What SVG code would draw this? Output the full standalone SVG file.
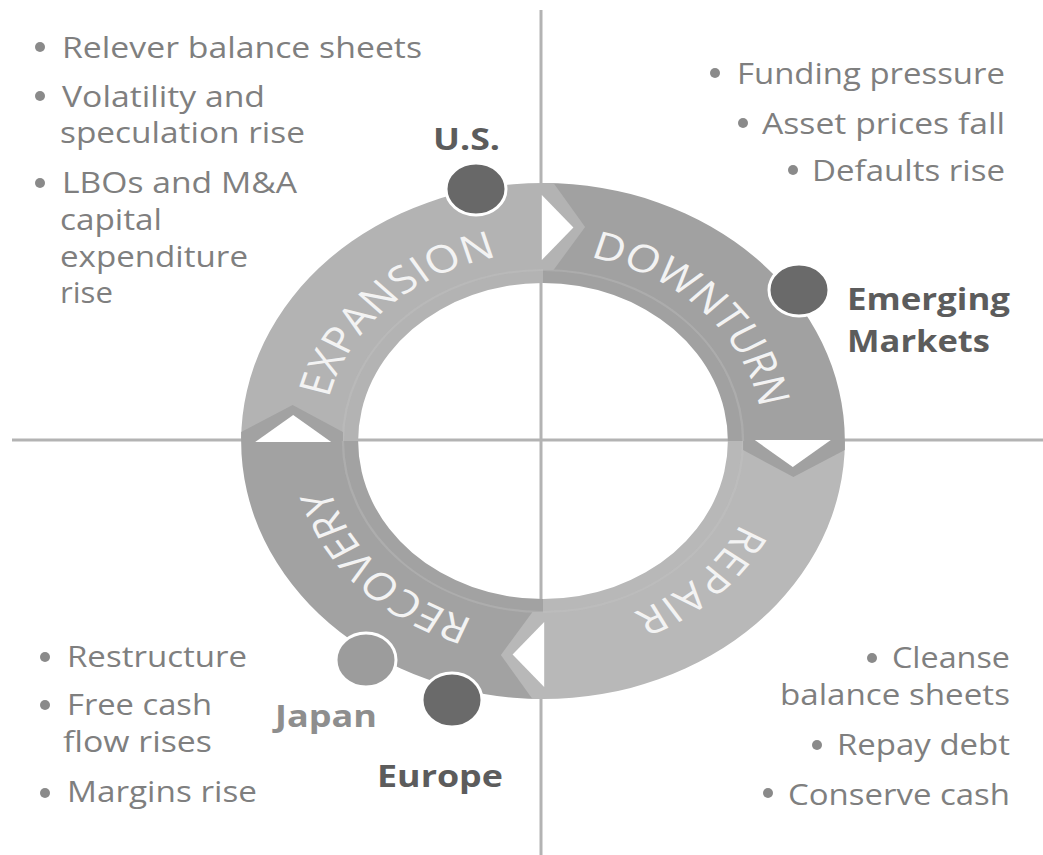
<svg xmlns="http://www.w3.org/2000/svg" width="1043" height="855" viewBox="0 0 1043 855">
  <style>
    .bt { font-family: "Open Sans", "Liberation Sans", sans-serif; font-size: 29px; fill: #7f7f7f; }
    .lb { font-family: "Open Sans", "Liberation Sans", sans-serif; font-size: 31px; font-weight: 700; fill: #5c5c5c; }
    .ph { font-family: "Open Sans", "Liberation Sans", sans-serif; font-size: 38px; fill: #f3f3f3; }
    .dot { fill: #8a8a8a; }
    .mk { stroke: #ffffff; stroke-width: 3; }
    .qline { stroke: #b3b3b3; stroke-width: 3; fill: none; }
  </style>
  <defs>
    <path id="arc" d="M188,0 A188,188 0 1 1 -188,0 A188,188 0 1 1 188,0"/>
  </defs>
  <rect width="1043" height="855" fill="#ffffff"/>

  <g id="quadrant-lines">
    <line class="qline" x1="541" y1="10" x2="541" y2="855"/>
    <line class="qline" x1="12" y1="440" x2="1043" y2="440"/>
  </g>

  <g id="ring" transform="translate(543,441) scale(1.17,1)">
    <g id="expansion"><path d="M-258,0 A258,258 0 0 1 0,-258 L0,-158 A158,158 0 0 0 -158,0 Z" fill="#b3b3b3"/></g>
    <g id="downturn"><path d="M0,-258 A258,258 0 0 1 258,0 L158,0 A158,158 0 0 0 0,-158 Z" fill="#a1a1a1"/></g>
    <g id="repair"><path d="M258,0 A258,258 0 0 1 0,258 L0,158 A158,158 0 0 0 158,0 Z" fill="#b8b8b8"/></g>
    <g id="recovery"><path d="M0,258 A258,258 0 0 1 -258,0 L-158,0 A158,158 0 0 0 0,158 Z" fill="#a2a2a2"/></g>
    <circle r="171" fill="none" stroke="#c6c6c6" stroke-opacity="0.3" stroke-width="2"/>

    <g id="connectors">
      <g>
        <polygon points="0,-258 9,-258 36,-214 9,-171 0,-171" fill="#b3b3b3"/>
        <polygon points="-1,-246 -1,-181 26,-213.5" fill="#ffffff"/>
      </g>
      <g transform="rotate(90)">
        <polygon points="0,-258 9,-258 36,-214 9,-171 0,-171" fill="#a1a1a1"/>
        <polygon points="-1,-246 -1,-181 26,-213.5" fill="#ffffff"/>
      </g>
      <g transform="rotate(180)">
        <polygon points="0,-258 9,-258 36,-214 9,-171 0,-171" fill="#b8b8b8"/>
        <polygon points="-1,-246 -1,-181 26,-213.5" fill="#ffffff"/>
      </g>
      <g transform="rotate(270)">
        <polygon points="0,-258 9,-258 36,-214 9,-171 0,-171" fill="#a2a2a2"/>
        <polygon points="-1,-246 -1,-181 26,-213.5" fill="#ffffff"/>
      </g>
    </g>

    <text class="ph" letter-spacing="1"><textPath href="#arc" startOffset="12.8%" text-anchor="middle">REPAIR</textPath></text>
    <text class="ph" letter-spacing="0"><textPath href="#arc" startOffset="38%" text-anchor="middle">RECOVERY</textPath></text>
    <text class="ph" letter-spacing="0.5"><textPath href="#arc" startOffset="62.7%" text-anchor="middle">EXPANSION</textPath></text>
    <text class="ph" letter-spacing="0"><textPath href="#arc" startOffset="87.8%" text-anchor="middle">DOWNTURN</textPath></text>
  </g>

  <g id="node-us">
    <ellipse class="mk" cx="476" cy="189" rx="30" ry="26" fill="#686868"/>
    <text class="lb" x="433" y="150" textLength="67" lengthAdjust="spacingAndGlyphs">U.S.</text>
  </g>
  <g id="node-emerging">
    <ellipse class="mk" cx="799" cy="290" rx="30" ry="26" fill="#6a6a6a"/>
    <text class="lb" x="847" y="310" textLength="163" lengthAdjust="spacingAndGlyphs">Emerging</text>
    <text class="lb" x="847" y="352" textLength="143" lengthAdjust="spacingAndGlyphs">Markets</text>
  </g>
  <g id="node-japan">
    <ellipse class="mk" cx="366" cy="660" rx="30" ry="27" fill="#9c9c9c"/>
    <text class="lb" x="275" y="727" textLength="102" lengthAdjust="spacingAndGlyphs" style="fill:#8e8e8e">Japan</text>
  </g>
  <g id="node-europe">
    <ellipse class="mk" cx="452" cy="700" rx="30" ry="27" fill="#6a6a6a"/>
    <text class="lb" x="377" y="787" textLength="126" lengthAdjust="spacingAndGlyphs">Europe</text>
  </g>

  <g id="expansion-notes">
    <circle class="dot" cx="40" cy="47" r="5"/>
    <text class="bt" x="62" y="58" textLength="360" lengthAdjust="spacingAndGlyphs">Relever balance sheets</text>
    <circle class="dot" cx="40" cy="96" r="5"/>
    <text class="bt" x="62" y="107" textLength="203" lengthAdjust="spacingAndGlyphs">Volatility and</text>
    <text class="bt" x="60" y="143" textLength="245" lengthAdjust="spacingAndGlyphs">speculation rise</text>
    <circle class="dot" cx="40" cy="183" r="5"/>
    <text class="bt" x="62" y="193" textLength="235" lengthAdjust="spacingAndGlyphs">LBOs and M&amp;A</text>
    <text class="bt" x="60" y="230" textLength="102" lengthAdjust="spacingAndGlyphs">capital</text>
    <text class="bt" x="60" y="267" textLength="188" lengthAdjust="spacingAndGlyphs">expenditure</text>
    <text class="bt" x="60" y="303" textLength="53" lengthAdjust="spacingAndGlyphs">rise</text>
  </g>

  <g id="downturn-notes">
    <circle class="dot" cx="715" cy="73" r="5"/>
    <text class="bt" x="737" y="84" textLength="268" lengthAdjust="spacingAndGlyphs">Funding pressure</text>
    <circle class="dot" cx="743" cy="123" r="5"/>
    <text class="bt" x="762" y="134" textLength="243" lengthAdjust="spacingAndGlyphs">Asset prices fall</text>
    <circle class="dot" cx="793" cy="170" r="5"/>
    <text class="bt" x="812" y="181" textLength="193" lengthAdjust="spacingAndGlyphs">Defaults rise</text>
  </g>

  <g id="recovery-notes">
    <circle class="dot" cx="45" cy="657" r="5"/>
    <text class="bt" x="67" y="667" textLength="180" lengthAdjust="spacingAndGlyphs">Restructure</text>
    <circle class="dot" cx="45" cy="705" r="5"/>
    <text class="bt" x="67" y="715" textLength="145" lengthAdjust="spacingAndGlyphs">Free cash</text>
    <text class="bt" x="63" y="752" textLength="149" lengthAdjust="spacingAndGlyphs">flow rises</text>
    <circle class="dot" cx="45" cy="793" r="5"/>
    <text class="bt" x="67" y="802" textLength="190" lengthAdjust="spacingAndGlyphs">Margins rise</text>
  </g>

  <g id="repair-notes">
    <circle class="dot" cx="872" cy="658" r="5"/>
    <text class="bt" x="892" y="668" textLength="118" lengthAdjust="spacingAndGlyphs">Cleanse</text>
    <text class="bt" x="780" y="705" textLength="230" lengthAdjust="spacingAndGlyphs">balance sheets</text>
    <circle class="dot" cx="817" cy="745" r="5"/>
    <text class="bt" x="837" y="755" textLength="173" lengthAdjust="spacingAndGlyphs">Repay debt</text>
    <circle class="dot" cx="768" cy="793" r="5"/>
    <text class="bt" x="788" y="805" textLength="222" lengthAdjust="spacingAndGlyphs">Conserve cash</text>
  </g>
</svg>
